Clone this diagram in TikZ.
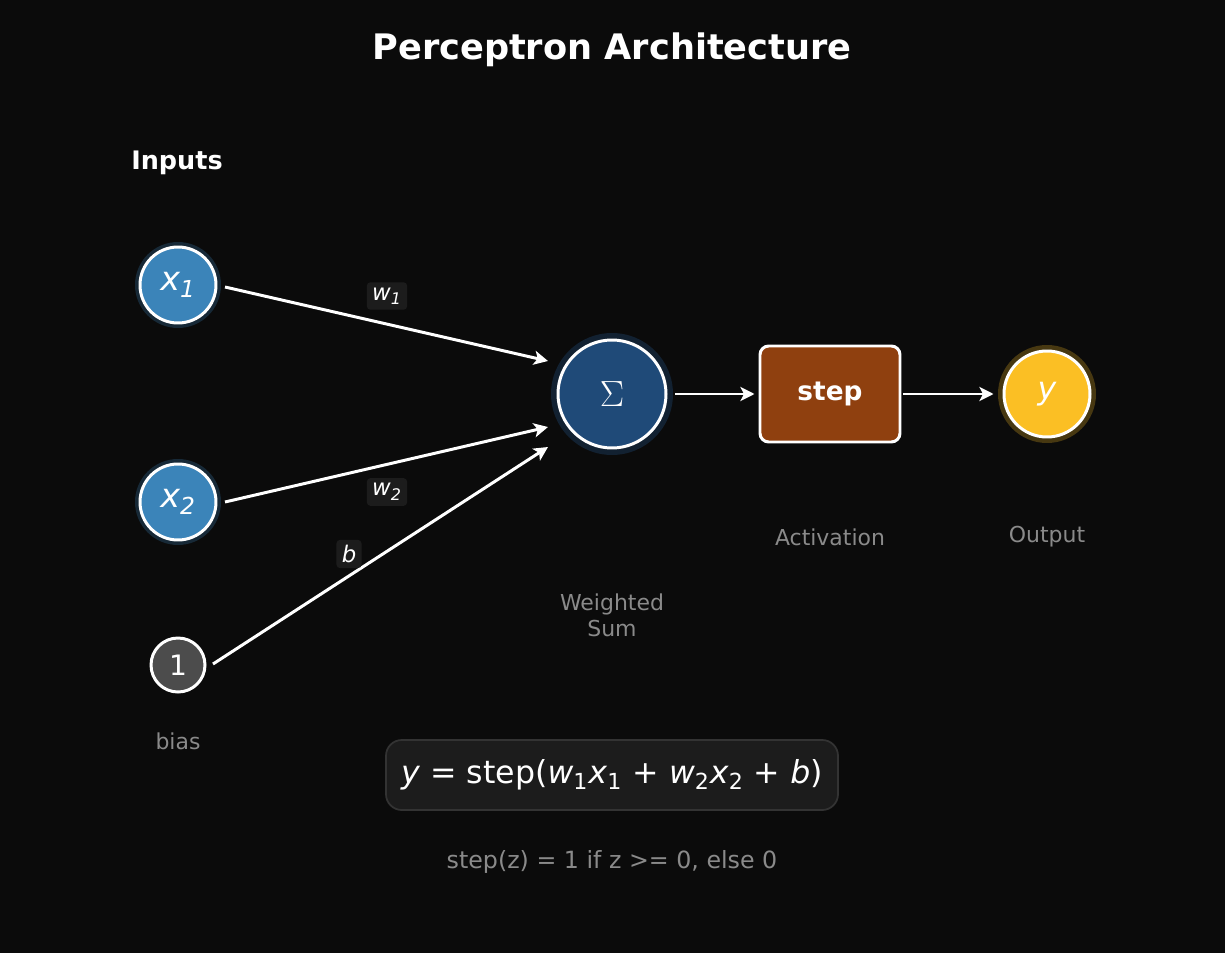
\documentclass[tikz,border=0pt]{standalone}
\usepackage{fontspec}
\setmainfont{DejaVu Sans}
\usetikzlibrary{arrows.meta}
\definecolor{bg}{HTML}{0B0B0B}
\definecolor{inblue}{HTML}{3B84B9}
\definecolor{sigblue}{HTML}{1F4A78}
\definecolor{stepbrown}{HTML}{8F400F}
\definecolor{outyel}{HTML}{FBBF24}
\definecolor{lbl}{HTML}{8A8A8A}
\definecolor{boxbg}{HTML}{1C1C1C}
\definecolor{boxline}{HTML}{333333}
\tikzset{
  neuron/.style={circle, draw=white, line width=1.7pt, inner sep=0pt, text=white},
  conn/.style={white, line width=1.7pt, -{Stealth[length=8pt,width=8pt,inset=2pt]}},
  wlabel/.style={fill=boxbg, text=white, font=\fontsize{13}{15}\selectfont\itshape, inner sep=3pt, rounded corners=2pt},
  gray/.style={text=lbl, font=\fontsize{12.5}{15}\selectfont, align=center},
}
\begin{document}
\begin{tikzpicture}[x=0.02cm,y=-0.02cm]
\fill[bg] (0,0) rectangle (1225,953);
\useasboundingbox (0,0) rectangle (1225,953);
\node[text=white, font=\fontsize{20}{24}\selectfont\bfseries] (title) at (612,50) {Perceptron Architecture};
\node[text=white, font=\fontsize{14.5}{17}\selectfont\bfseries] (inputs) at (177,163) {Inputs};
% glows
\fill[inblue!25!bg] (178,285) circle (43);
\fill[inblue!25!bg] (178,502) circle (43);
\fill[sigblue!35!bg] (612,394) circle (61);
\fill[outyel!25!bg] (1047,394) circle (49);
\node[neuron, fill=inblue, minimum size=76*0.02cm, font=\fontsize{19}{20}\selectfont] (x1) at (178,285) {\itshape x\textsubscript{1}};
\node[neuron, fill=inblue, minimum size=76*0.02cm, font=\fontsize{19}{20}\selectfont] (x2) at (178,502) {\itshape x\textsubscript{2}};
\node[neuron, fill=black!70!white, minimum size=54*0.02cm, font=\fontsize{16}{18}\selectfont] (one) at (178,665) {1};
\node[gray] (biasl) at (178,741) {bias};
\node[neuron, fill=sigblue, minimum size=108*0.02cm, font=\fontsize{22}{24}\selectfont] (sig) at (612,394) {$\Sigma$};
\node[draw=white, line width=1.7pt, fill=stepbrown, rounded corners=5pt, minimum width=140*0.02cm, minimum height=96*0.02cm, text=white, font=\fontsize{15}{18}\selectfont\bfseries] (step) at (830,394) {step};
\node[neuron, fill=outyel, minimum size=86*0.02cm, font=\fontsize{18}{20}\selectfont] (y) at (1047,394) {\itshape y};
\node[gray] (wsum) at (612,615) {Weighted\\Sum};
\node[gray] (act) at (830,537) {Activation};
\node[gray] (outl) at (1047,537) {Output};
% connector endpoints
\coordinate (s1) at (225,287); \coordinate (t1) at (548,361);
\coordinate (s2) at (225,502); \coordinate (t2) at (548,427);
\coordinate (s3) at (213,664); \coordinate (t3) at (548,447);
\draw[conn] (s1) -- (t1);
\draw[conn] (s2) -- (t2);
\draw[conn] (s3) -- (t3);
\draw[conn, shorten <=8*0.02cm, shorten >=4*0.02cm] (sig) -- (step);
\draw[conn, shorten <=2*0.02cm, shorten >=9*0.02cm] (step) -- (y);
\node[wlabel] (w1) at (387,296) {w\textsubscript{1}};
\node[wlabel] (w2) at (387,492) {w\textsubscript{2}};
\node[wlabel] (bl) at (349,554) {b};
\node[draw=boxline, line width=1pt, fill=boxbg, rounded corners=9pt, minimum width=452*0.02cm, minimum height=70*0.02cm, text=white, font=\fontsize{18}{20}\selectfont] (formula) at (612,775) {\textit{y} = step(\textit{w}\textsubscript{1}\textit{x}\textsubscript{1} + \textit{w}\textsubscript{2}\textit{x}\textsubscript{2} + \textit{b})};
\node[gray, font=\fontsize{13.5}{16}\selectfont] (rule) at (612,862) {step(z) = 1 if z >= 0, else 0};
\end{tikzpicture}
\end{document}
